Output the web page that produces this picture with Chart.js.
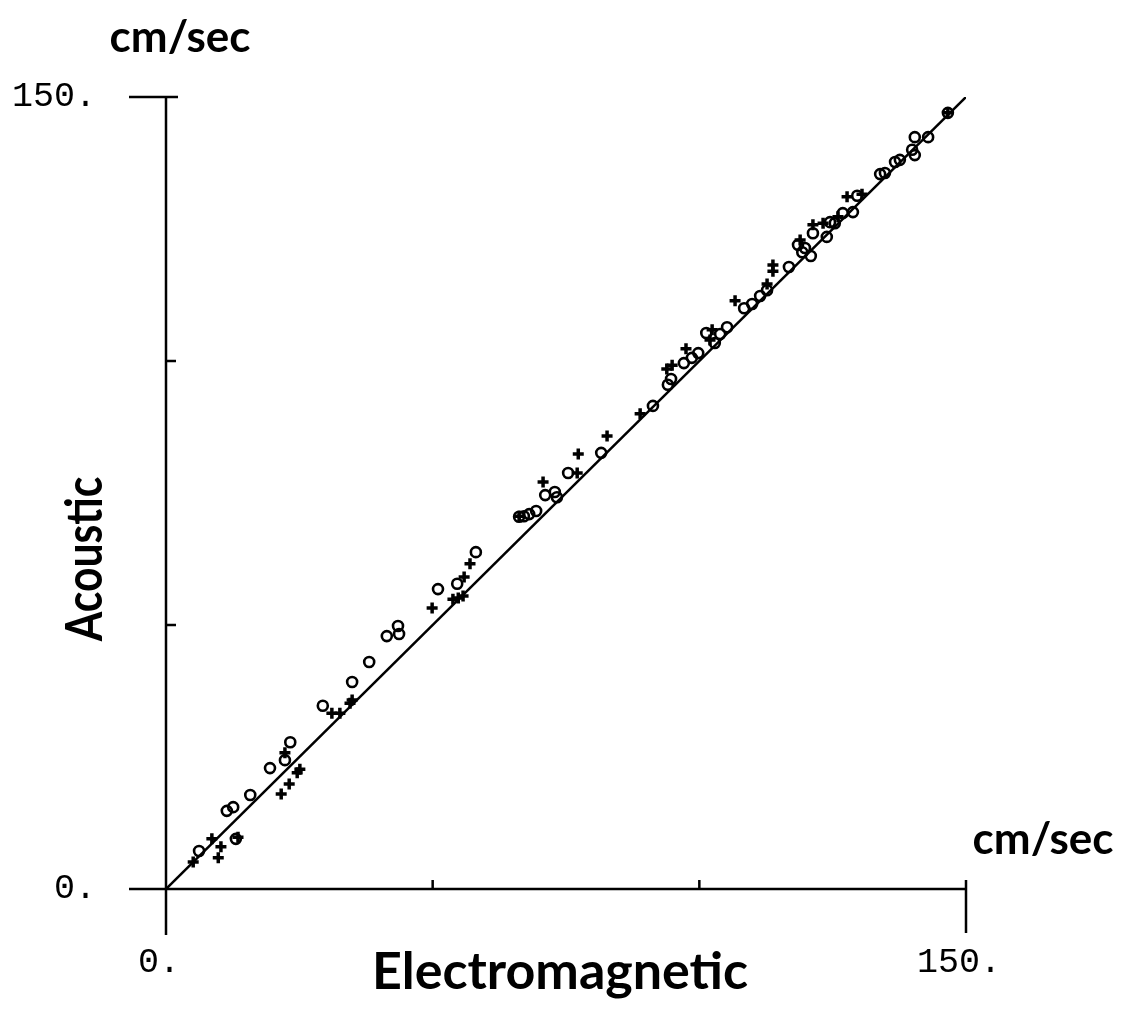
<!DOCTYPE html>
<html>
<head>
<meta charset="utf-8">
<title>Acoustic vs Electromagnetic current speed</title>
<script src="https://cdn.jsdelivr.net/npm/chart.js@4.4.1/dist/chart.umd.min.js"></script>
<style>
  html, body { margin: 0; padding: 0; background: #fff; }
  canvas { display: block; }
</style>
</head>
<body>
<canvas id="plot" width="1128" height="1011"></canvas>
<script>
// Axis range and tick marks (cm/sec)
const axisMin = 0;
const axisMax = 150;
const tickValues = [0, 50, 100, 150];
const tickLabels = { 0: '0.', 150: '150.' };

// Open-circle series: electromagnetic (x) vs acoustic (y), cm/sec
const circleX = [6.2, 13.1, 11.4, 12.6, 15.8, 19.5, 22.3, 23.3, 29.4, 34.9,
  38.1, 41.4, 43.5, 43.7, 51.0, 54.6, 58.1, 66.2, 67.1, 68.1,
  69.4, 71.1, 72.9, 73.3, 75.4, 81.6, 91.3, 94.1, 94.7, 97.1,
  98.6, 99.8, 101.3, 102.9, 103.9, 105.2, 108.4, 109.9, 111.4, 112.7,
  116.8, 119.3, 120.9, 121.3, 123.9, 124.5, 125.4, 126.9, 128.8, 129.6,
  133.9, 134.8, 136.7, 137.6, 139.9, 140.4, 140.4, 142.9, 146.6, 118.5,
  119.8];
const circleY = [7.2, 9.5, 14.8, 15.5, 17.8, 22.9, 24.4, 27.8, 34.7, 39.2,
  43.0, 47.9, 49.8, 48.3, 56.8, 57.8, 63.8, 70.5, 70.6, 71.0,
  71.6, 74.6, 75.2, 74.2, 78.8, 82.6, 91.5, 95.5, 96.6, 99.6,
  100.6, 101.5, 105.3, 103.4, 105.1, 106.4, 110.0, 110.8, 112.3, 113.4,
  117.8, 120.6, 119.9, 124.2, 123.5, 126.3, 126.1, 128.0, 128.2, 131.3,
  135.4, 135.6, 137.7, 138.1, 140.0, 139.0, 142.4, 142.4, 147.0, 122.0,
  121.4];

// Cross series: electromagnetic (x) vs acoustic (y), cm/sec
const plusX = [5.1, 8.6, 10.3, 9.8, 13.5, 21.6, 23.1, 24.6, 25.1, 22.3,
  31.1, 32.6, 34.5, 34.9, 49.9, 53.8, 54.8, 55.7, 55.9, 57.0,
  70.7, 77.1, 77.3, 82.7, 88.9, 93.9, 94.9, 97.5, 102.4, 102.0,
  106.7, 112.7, 113.8, 113.8, 121.3, 123.2, 126.0, 127.7, 130.5, 66.2,
  146.6, 118.9];
const plusY = [5.1, 9.5, 8.0, 5.9, 9.8, 18.0, 19.9, 22.0, 22.7, 25.8,
  33.3, 33.3, 35.2, 35.8, 53.2, 54.9, 55.1, 55.5, 59.1, 61.6,
  77.1, 78.8, 82.4, 85.8, 90.0, 98.5, 99.2, 102.3, 105.9, 104.0,
  111.4, 114.6, 118.2, 117.0, 125.8, 126.1, 127.3, 131.1, 131.6, 70.6,
  147.0, 122.9];

// One-to-one reference line
const lineX = [0, 150];
const lineY = [0, 150];

const pairs = (xs, ys) => xs.map((v, i) => ({ x: v, y: ys[i] }));

// Plotter-style axes: long baseline, outward end ticks, short inward ticks
const plotterAxes = {
  id: 'plotterAxes',
  beforeDatasetsDraw(chart) {
    const { ctx, scales: { x, y } } = chart;
    const x0 = x.getPixelForValue(axisMin), x1 = x.getPixelForValue(axisMax);
    const y0 = y.getPixelForValue(axisMin), y1 = y.getPixelForValue(axisMax);
    ctx.save();
    ctx.strokeStyle = '#000';
    ctx.lineWidth = 2.5;
    ctx.lineCap = 'butt';
    ctx.beginPath();
    ctx.moveTo(x0 - 37, y0); ctx.lineTo(x1, y0);
    ctx.moveTo(x0, y1); ctx.lineTo(x0, y0 + 46);
    ctx.moveTo(x0 - 37, y1); ctx.lineTo(x0 + 12, y1);
    ctx.moveTo(x1, y0 - 9); ctx.lineTo(x1, y0 + 44);
    tickValues.filter(v => v > axisMin && v < axisMax).forEach(v => {
      const px = x.getPixelForValue(v);
      ctx.moveTo(px, y0); ctx.lineTo(px, y0 - 9);
      const py = y.getPixelForValue(v);
      ctx.moveTo(x0, py); ctx.lineTo(x0 + 10, py);
    });
    ctx.stroke();
    ctx.restore();
  }
};

// Axis names and units
const axisTitles = {
  id: 'axisTitles',
  afterDraw(chart) {
    const { ctx } = chart;
    ctx.save();
    ctx.fillStyle = '#000';
    ctx.textAlign = 'center';
    ctx.textBaseline = 'alphabetic';
    ctx.font = 'bold 44px Lato';
    ctx.fillText('cm/sec', 180, 52);
    ctx.fillText('cm/sec', 1043, 854);
    ctx.font = 'bold 52px Lato';
    ctx.fillText('Electromagnetic', 560, 989);
    ctx.translate(102, 559);
    ctx.rotate(-Math.PI / 2);
    ctx.scale(0.82, 1);
    ctx.fillText('Acoustic', 0, 0);
    ctx.restore();
  }
};

const tickFont = { family: 'Liberation Mono', size: 35 };

new Chart(document.getElementById('plot'), {
  type: 'scatter',
  data: {
    datasets: [
      {
        type: 'line',
        label: '1:1',
        data: pairs(lineX, lineY),
        borderColor: '#000',
        borderWidth: 2.5,
        pointRadius: 0,
        fill: false,
        tension: 0
      },
      {
        label: 'o',
        data: pairs(circleX, circleY),
        pointStyle: 'circle',
        pointRadius: 5,
        borderColor: '#000',
        borderWidth: 2.6,
        backgroundColor: 'rgba(0,0,0,0)'
      },
      {
        label: '+',
        data: pairs(plusX, plusY),
        pointStyle: 'cross',
        pointRadius: 5.5,
        borderColor: '#000',
        borderWidth: 3.5
      }
    ]
  },
  options: {
    responsive: false,
    animation: false,
    devicePixelRatio: 1,
    layout: { padding: { top: 97, right: 162, left: 0, bottom: 0 } },
    plugins: { legend: { display: false }, tooltip: { enabled: false } },
    scales: {
      x: {
        type: 'linear',
        min: axisMin,
        max: axisMax,
        afterBuildTicks: s => { s.ticks = tickValues.map(v => ({ value: v })); },
        afterFit: s => { s.height = 122; },
        grid: { display: false, drawTicks: false },
        border: { display: false },
        ticks: {
          autoSkip: false,
          maxRotation: 0,
          padding: 53,
          labelOffset: -7,
          color: '#000',
          font: tickFont,
          callback: v => tickLabels[v] ?? ''
        }
      },
      y: {
        type: 'linear',
        min: axisMin,
        max: axisMax,
        afterBuildTicks: s => { s.ticks = tickValues.map(v => ({ value: v })); },
        afterFit: s => { s.width = 166; },
        grid: { display: false, drawTicks: false },
        border: { display: false },
        ticks: {
          autoSkip: false,
          padding: 70,
          color: '#000',
          font: tickFont,
          callback: v => tickLabels[v] ?? ''
        }
      }
    }
  },
  plugins: [plotterAxes, axisTitles]
});
</script>
</body>
</html>
